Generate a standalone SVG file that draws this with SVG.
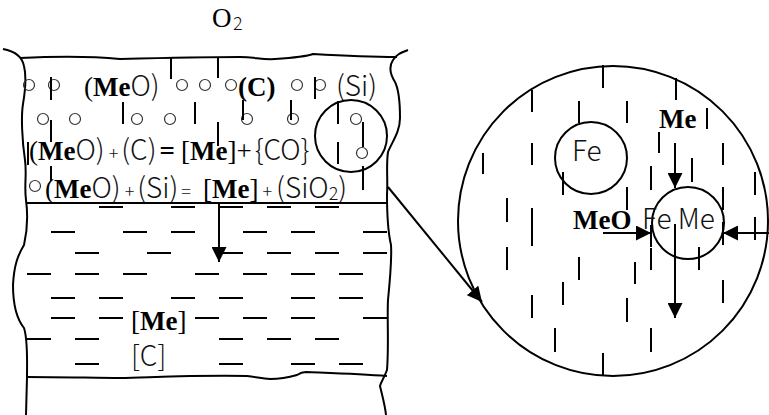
<svg xmlns="http://www.w3.org/2000/svg" width="769" height="415" viewBox="0 0 769 415">
  <defs>
    <style>
      .line { fill: none; stroke: #000; stroke-width: 2; stroke-linejoin: round; stroke-linecap: butt; }
      .dash { fill: none; stroke: #000; stroke-width: 2; }
      .bub { fill: none; stroke: #333; stroke-width: 1.2; }
      .ring { fill: none; stroke: #000; stroke-width: 2; }
      .s { font-family: "Liberation Serif", "Times New Roman", serif; font-size: 27px; fill: #000; }
      .b { font-weight: bold; }
      .l { font-family: "Noto Sans CJK SC", "Noto Sans", sans-serif; font-weight: 300; font-size: 28px; fill: #111; }
      .sm { font-size: 18px; }
    </style>
    <marker id="head" viewBox="0 0 15 15" refX="15" refY="7.5" markerWidth="15" markerHeight="15" markerUnits="userSpaceOnUse" orient="auto">
      <path d="M0,0 L15,7.5 L0,15 Z" fill="#000"/>
    </marker>
  </defs>

  <rect width="769" height="415" fill="#fff"/>

  <!-- oxygen blown onto the bath -->
  <g id="oxygen">
    <text y="27"><tspan class="s" x="212">O</tspan><tspan class="l sm" x="233" y="30">2</tspan></text>
  </g>

  <!-- vessel: walls, bath surface, slag/metal interface and bottom layer -->
  <g id="vessel">
    <path class="line" d="M20,58 C60,56 100,57 120,59 C160,58 200,57 240,57 C255,57 262,60 275,59 C290,58 305,57 313,54 C330,55 370,57 397,57"/>
    <path class="line" d="M3,49 C14,51 22,56 24,66 C27,78 25,92 23,104 C21,116 22,140 25,160 C27,175 24,185 26,200 C28,215 27,232 24,245 C18,255 14,265 13,285 C13,305 16,318 24,328 C28,340 27,360 27,377 L26,415"/>
    <path class="line" d="M408,50 C400,53 396,55 393,60 C389,66 390,74 395,82 C399,90 400,105 400,118 C400,132 392,142 388,152 C386,165 388,180 387,195 C387,215 388,232 391,245 C392,260 390,280 388,300 C387,320 389,345 387,370 C384,378 381,382 380,386 C382,395 385,405 386,415"/>
    <path class="line" d="M27,203 L387,203"/>
    <path class="line" d="M27,377 C60,377 100,378 120,378 C160,377 200,375 247,376 C257,377 262,379 270,379 C280,379 290,377 297,375 C300,373 303,372 306,372 C330,373 360,374 387,376"/>
  </g>

  <!-- slag layer: gas bubbles, vertical hatching and reactions -->
  <g id="slag">
    <g>
      <circle class="bub" cx="29" cy="85" r="5.5"/>
      <circle class="bub" cx="54" cy="85" r="5.5"/>
      <circle class="bub" cx="182" cy="85" r="5.5"/>
      <circle class="bub" cx="205" cy="85" r="5.5"/>
      <circle class="bub" cx="231" cy="85" r="5.5"/>
      <circle class="bub" cx="297" cy="85" r="5.5"/>
      <circle class="bub" cx="320" cy="85" r="5.5"/>
      <circle class="bub" cx="43" cy="119" r="5.5"/>
      <circle class="bub" cx="75" cy="119" r="5.5"/>
      <circle class="bub" cx="137" cy="119" r="5.5"/>
      <circle class="bub" cx="170" cy="119" r="5.5"/>
      <circle class="bub" cx="247" cy="119" r="5.5"/>
      <circle class="bub" cx="293" cy="119" r="5.5"/>
      <circle class="bub" cx="356" cy="119" r="5.5"/>
      <circle class="bub" cx="362" cy="153" r="5.5"/>
      <circle class="bub" cx="35" cy="186" r="5.5"/>
    </g>
    <path class="dash" d="M51,77V100 M171,57V79 M218,57V78 M315,77V99 M51,120V142 M123,102V124 M195,102V124 M243,100V120 M291,100V120 M338,101V124 M218,122V146 M363,122V147 M28,142V165 M338,142V164 M51,166V181 M363,166V190"/>
    <text y="96"><tspan class="s" x="84">(</tspan><tspan class="s b">Me</tspan><tspan class="l">O)</tspan><tspan class="s b" x="238">(C)</tspan><tspan class="l" x="336">(Si)</tspan></text>
    <!-- the two reactions -->
    <text y="160"><tspan class="s" x="29">(</tspan><tspan class="s b">Me</tspan><tspan class="l">O)</tspan><tspan class="l sm" dx="4">+</tspan><tspan class="l" dx="3">(C)</tspan><tspan class="s b" dx="3">=</tspan><tspan class="s" x="181">[</tspan><tspan class="s b">Me</tspan><tspan class="s">]</tspan><tspan class="s">+</tspan><tspan class="l" dx="3">{CO}</tspan><tspan class="s" x="45" y="198">(</tspan><tspan class="s b">Me</tspan><tspan class="l">O)</tspan><tspan class="l sm" dx="4">+</tspan><tspan class="l" dx="3">(Si)</tspan><tspan class="l sm" dx="3">=</tspan><tspan class="s" x="203">[</tspan><tspan class="s b">Me</tspan><tspan class="s">]</tspan><tspan class="l sm" dx="4">+</tspan><tspan class="l" dx="4">(SiO</tspan><tspan class="l sm" dy="2">2</tspan><tspan class="l" dy="-2">)</tspan></text>
  </g>

  <!-- bubble picked out for the enlarged view -->
  <g id="bubble">
    <circle class="ring" cx="351" cy="136" r="36"/>
  </g>

  <!-- metal bath -->
  <g id="metal">
    <path class="dash" d="M99,207h24M171,207h24M219,207h24M267,207h24M315,207h24
      M51,232h24M123,232h24M171,232h24M243,232h24M291,232h24M363,232h24
      M75,253h24M147,253h24M219,253h24M267,253h24M315,253h24M363,253h24
      M27,274h24M75,274h24M123,274h24M195,274h24M243,274h24M291,274h24M339,274h24
      M51,298h24M99,298h24M171,298h24M219,298h24M291,298h24M339,298h24
      M51,318h24M99,318h24M195,318h24M243,318h24M291,318h24M363,318h24
      M27,339h24M75,339h24M219,339h24M267,339h24M315,339h24
      M75,364h24M219,364h24M291,364h24M339,364h24"/>
    <text y="330"><tspan class="s" x="131">[</tspan><tspan class="s b">Me</tspan><tspan class="s">]</tspan><tspan class="l" x="131" y="366">[C]</tspan></text>
  </g>

  <!-- enlarged view of the bubble -->
  <g id="zoom-view">
    <circle class="ring" cx="613" cy="221" r="155"/>
    <path class="dash" d="M603,65V88 M676,78V100 M532,90V112 M579,101V123 M627,101V123 M707,108V129
      M659,132V153 M723,143V165 M483,153V174 M532,143V165 M563,172V195 M651,166V190 M692,158V182
      M755,172V195 M627,187V210 M723,187V210 M507,198V222 M532,208V230 M532,224V246 M651,225V247
      M651,248V270 M755,217V240 M723,222V245 M699,247V270 M635,262V284 M507,247V270 M579,257V280
      M563,282V305 M723,280V303 M532,295V318 M627,298V322 M555,328V352 M651,328V352 M603,353V376"/>
    <g id="fe-droplet">
      <circle class="ring" cx="591" cy="158" r="36"/>
      <text class="l" x="572" y="161">Fe</text>
    </g>
    <g id="fe-me-droplet">
      <circle class="ring" cx="688" cy="223" r="36"/>
      <text class="l" x="642" y="229">Fe Me</text>
    </g>
    <text class="s b" x="659" y="128">Me</text>
    <text class="s b" x="573" y="229">MeO</text>
  </g>

  <!-- connectors and flow arrows -->
  <g id="connectors">
    <line class="line" x1="219" y1="204" x2="219" y2="262" marker-end="url(#head)"/>
    <line class="line" x1="388" y1="187" x2="482" y2="302" marker-end="url(#head)"/>
    <line class="line" x1="675" y1="143" x2="675" y2="188" marker-end="url(#head)"/>
    <line class="line" x1="603" y1="233" x2="651" y2="233" marker-end="url(#head)"/>
    <line class="line" x1="769" y1="233" x2="723" y2="233" marker-end="url(#head)"/>
    <line class="line" x1="675" y1="224" x2="675" y2="318" marker-end="url(#head)"/>
  </g>
</svg>
